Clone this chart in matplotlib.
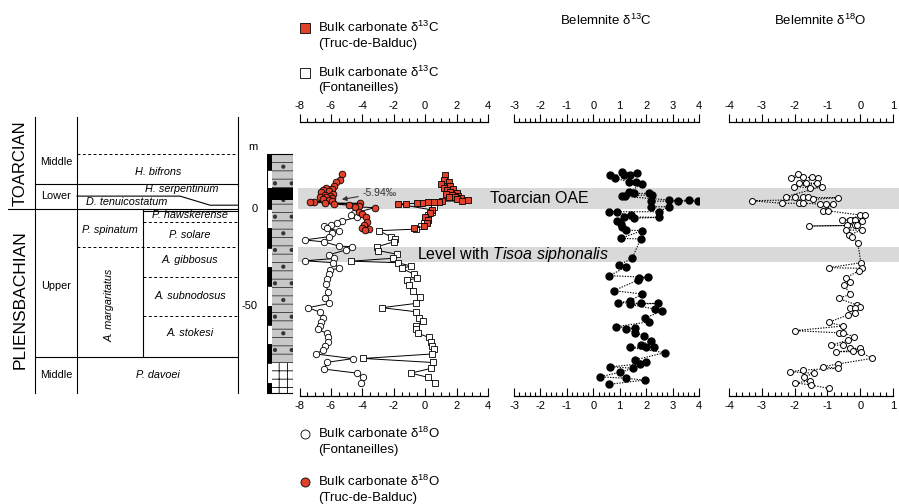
import matplotlib
matplotlib.use('Agg')
import numpy as np
import matplotlib.pyplot as plt
from matplotlib.ticker import MultipleLocator, FixedLocator

plt.rcParams['font.family'] = ['Liberation Sans', 'DejaVu Sans']
plt.rcParams['mathtext.fontset'] = 'custom'
plt.rcParams['mathtext.rm'] = 'Liberation Sans'
plt.rcParams['mathtext.it'] = 'Liberation Sans:italic'
plt.rcParams['mathtext.default'] = 'regular'
plt.rcParams['axes.unicode_minus'] = False
plt.rcParams['hatch.linewidth'] = 0.6

RED = '#e2412b'
BAND = '#d9d9d9'

# ---- data (depth in m, isotopes in permil) ----
fon_d18o_depth = [-1.9, -3.1, -4.3, -6.2, -7.4, -8.3, -8.8, -10.0, -11.2, -12.6, -14.3, -16.0, -17.0,
                  -19.2, -19.5, -21.2, -23.8, -25.6, -26.8, -27.8, -30.7, -31.6, -33.8, -36.4, -39.0,
                  -42.8, -45.9, -48.9, -51.1, -53.4, -56.3, -58.4, -60.5, -62.3, -64.4, -66.5, -68.7,
                  -70.8, -73.0, -75.1, -77.5, -79.4, -82.9, -85.0, -87.2, -90.0]
fon_d18o = [-4.55, -4.75, -4.35, -5.3, -5.6, -6.0, -6.45, -6.25, -5.5, -5.9, -6.1, -7.67, -6.45,
            -5.5, -4.65, -5.05, -6.15, -5.8, -7.65, -5.85, -5.5, -6.05, -6.1, -6.25, -6.3,
            -6.2, -6.35, -6.1, -7.45, -6.7, -6.5, -6.6, -6.7, -6.85, -6.25, -6.2, -6.2,
            -6.35, -6.5, -6.95, -4.6, -6.25, -6.45, -4.35, -3.95, -4.1]

fon_d13c_depth = [1.2, -1.4, -3.0, -5.0, -7.0, -9.0, -10.4, -11.2, -14.3, -15.6, -17.0, -19.5, -21.5,
                  -23.4, -25.5, -27.0, -27.8, -29.5, -30.7, -33.8, -35.9, -36.8, -39.4, -42.5, -45.8,
                  -48.9, -51.1, -53.2, -56.3, -58.0, -60.6, -62.3, -64.4, -66.5, -68.7, -70.8, -72.7,
                  -75.1, -77.4, -79.5, -82.5, -85.0, -87.2, -90.0]
fon_d13c = [0.55, 0.45, 0.2, 0.0, -0.1, -0.25, -0.6, -2.95, -2.2, -1.9, -2.0, -3.05, -3.0,
            -1.8, -2.05, -4.7, -1.75, -0.9, -1.5, -0.7, -0.5, -1.17, -1.0, -0.8, -0.3,
            -0.6, -2.75, -0.6, -0.4, -0.15, -0.6, -0.6, -0.45, 0.23, 0.36, 0.46, 0.57,
            0.42, -3.93, 0.48, 0.4, -0.9, 0.17, 0.65]

tdb_d18o_depth = [18.0, 15.0, 14.0, 12.0, 11.0, 10.4, 9.8, 9.2, 8.6, 8.0, 7.5, 7.0, 6.5, 6.0, 5.5,
                  5.0, 4.5, 4.0, 3.8, 3.5, 3.2, 3.0, 2.6, 2.0, 1.5, 1.2, 0.7, -1.4, -2.6, -4.0,
                  -6.6, -8.3, -10.0, -10.5, -11.0]
tdb_d18o = [-5.3, -5.45, -5.7, -5.8, -6.3, -5.95, -6.5, -6.1, -6.6, -5.85, -6.4, -6.05, -6.7, -6.3, -5.95,
            -6.5, -6.15, -5.9, -7.1, -7.3, -6.4, -4.15, -5.8, -4.85, -4.2, -4.45, -3.2, -4.2, -4.0, -3.75,
            -3.7, -3.9, -4.0, -3.6, -3.8]

tdb_d13c_depth = [17.6, 15.0, 14.0, 13.0, 12.0, 11.0, 10.5, 10.0, 9.0, 8.5, 8.0, 7.5, 7.0, 6.5, 6.0,
                  5.5, 5.0, 4.7, 4.3, 4.0, 3.8, 3.6, 3.4, 3.2, 3.0, 2.8, 2.6, -0.5, -2.0, -4.0,
                  -5.5, -7.0, -9.0, -10.0]
tdb_d13c = [1.25, 1.2, 1.5, 1.0, 1.6, 1.2, 1.8, 1.4, 1.6, 2.0, 1.3, 1.7, 2.1, 1.5, 1.9,
            2.3, 2.0, 2.7, 2.35, 1.1, 0.87, 0.55, 0.2, -0.2, -0.5, -1.25, -1.7, 0.45, 0.3, 0.0,
            0.2, 0.1, -0.1, -0.73]

bel13_depth = [19.3, 18.5, 17.6, 17.6, 17.6, 15.9, 14.1, 14.1, 12.8, 9.0, 8.1, 8.1, 7.3, 7.0, 6.7,
               4.7, 4.3, 4.7, 4.1, 4.1, 1.2, 1.2, -1.4, -1.4, -1.4, -3.1, -4.0, -4.3, -4.8, -6.2,
               -7.5, -9.2, -10.9, -11.2, -15.2, -15.5, -25.6, -29.0, -30.2, -34.5, -35.4, -35.9,
               -36.8, -42.3, -44.0, -47.7, -48.5, -48.9, -48.9, -49.4, -51.8, -52.7, -56.6, -58.4,
               -61.0, -61.8, -62.2, -64.1, -65.6, -68.2, -70.5, -71.3, -71.3, -71.7, -74.4, -78.2,
               -79.1, -80.3, -81.7, -82.5, -84.6, -86.9, -87.7, -88.6, -90.8]
bel13 = [1.09, 1.66, 1.4, 1.15, 0.65, 0.84, 1.34, 1.6, 1.85, 1.34, 1.53, 2.1, 2.23, 1.2, 1.09,
         2.86, 3.2, 3.62, 3.97, 2.17, 2.17, 2.86, 2.48, 0.9, 0.58, 1.41, 1.15, 2.48, 1.53, 0.9,
         1.05, 1.09, 1.22, 1.85, 1.03, 1.79, 1.47, 0.96, 1.22, 0.61, 2.07, 1.73,
         1.69, 0.77, 1.85, 1.38, 0.94, 1.79, 2.46, 1.38, 2.33, 2.61, 1.95, 2.1,
         0.86, 1.57, 1.22, 1.57, 1.91, 2.17, 1.79, 1.98, 2.29, 1.38, 2.7, 1.57,
         1.98, 1.76, 0.65, 1.51, 1.0, 0.24, 1.25, 1.94, 0.61]

bel18_depth = [18.0, 16.2, 16.4, 16.4, 16.2, 13.6, 13.6, 13.3, 11.6, 11.0, 11.6, 6.4, 6.4, 6.4, 6.0,
               5.9, 5.0, 4.3, 3.0, 3.0, 3.0, 2.6, 2.6, 2.6, -0.9, -0.9, -3.1, -3.1, -5.7, -5.7,
               -5.7, -6.2, -8.5, -8.8, -8.5, -8.5, -10.9, -10.9, -13.5, -14.3, -17.8, -27.8,
               -30.4, -30.7, -32.1, -35.6, -37.7, -39.4, -44.2, -46.3, -49.7, -51.1, -51.0, -51.5,
               -54.0, -54.9, -58.7, -60.6, -63.0, -64.1, -64.1, -66.1, -67.9, -70.5, -70.5, -72.2,
               -72.2, -73.4, -73.9, -73.9, -77.4, -80.3, -81.7, -82.5, -83.4, -84.3, -85.1, -86.9,
               -89.1, -90.0, -91.2, -92.9]
bel18 = [-1.9, -2.1, -1.73, -1.48, -1.28, -1.88, -1.65, -1.33, -2.02, -1.53, -1.16, -2.27, -1.98, -1.73, -1.58,
         -0.69, -1.43, -3.31, -2.37, -1.88, -1.73, -1.23, -1.04, -0.82, -1.14, -0.99, 0.0, 0.15, -0.56, -0.3,
         -0.15, 0.05, -0.4, -1.55, -0.15, -0.1, -0.44, 0.05, -0.35, -0.25, -0.07, 0.02,
         -0.96, 0.05, -0.05, -0.44, -0.3, -0.49, -0.3, -0.66, -0.1, -0.3, 0.0, -0.15,
         -0.15, -0.38, -0.96, -0.51, -2.0, -0.66, -0.52, -0.2, -0.36, -0.89, -0.51, -0.3,
         0.0, -0.23, -0.74, 0.02, 0.35, -0.69, -1.14, -0.69, -1.73, -2.14, -1.41, -1.71,
         -1.53, -1.98, -1.5, -0.96]

# highlighted intervals (depth ranges)
oae_band = (0.0, 11.0)
tisoa_band = (-27.2, -19.5)

# lithology: scale-bar segments and column units (top, bottom)
scale_edges = [28.5, 20, 10, 0, -10, -20, -30, -40, -50, -60, -70, -80, -90, -95.3]
marl_units = [(28.5, 11.0), (4.7, -80.0)]
shale_units = [(11.0, 4.7)]
limestone_units = [(-80.0, -95.3)]

# ---- layout helpers ----
W, H = 899, 504
fig = plt.figure(figsize=(W / 100, H / 100), dpi=100)
D_TOP, D_BOT = 45.1, -96.6


def px_axes(x0, x1, y0=122, y1=395.5):
    ax = fig.add_axes([x0 / W, 1 - y1 / H, (x1 - x0) / W, (y1 - y0) / H])
    ax.patch.set_alpha(0)
    return ax


def depth_axes(x0, x1, xlim):
    ax = px_axes(x0, x1)
    ax.set_xlim(*xlim)
    ax.set_ylim(D_BOT, D_TOP)
    ax.axis('off')
    return ax


def ruler(axis, ticks, minor, direction, pad):
    axis.xaxis.set_major_locator(FixedLocator(ticks))
    axis.xaxis.set_minor_locator(MultipleLocator(minor))
    axis.set_xticklabels([str(int(t)) for t in ticks])
    axis.tick_params(axis='x', which='both', direction=direction, labelsize=8, pad=pad, width=0.8)
    axis.tick_params(axis='x', which='major', length=6)
    axis.tick_params(axis='x', which='minor', length=3)


def panel(x0, x1, lo, hi, major, minor):
    ax = px_axes(x0, x1)
    ax.set_xlim(lo, hi)
    ax.set_ylim(D_BOT, D_TOP)
    for s in ('left', 'right', 'top'):
        ax.spines[s].set_visible(False)
    ax.spines['bottom'].set_linewidth(0.9)
    ax.set_yticks([])
    ticks = np.arange(lo, hi + 0.001, major)
    ruler(ax, ticks, minor, 'in', 4)
    sec = ax.secondary_xaxis('top')
    sec.spines['top'].set_linewidth(0.9)
    ruler(sec, ticks, minor, 'out', 2)
    return ax


# ---- background / legend layer ----
bg = fig.add_axes([0, 0, 1, 1])
bg.set_xlim(0, W)
bg.set_ylim(H, 0)
bg.axis('off')

# ---- grey event bands ----
band = depth_axes(298, 899, (0, 1))
band.axhspan(*oae_band, color=BAND, lw=0, zorder=0)
band.axhspan(*tisoa_band, color=BAND, lw=0, zorder=0)
band.text(0.32, 5.6, 'Toarcian OAE', fontsize=11.5, va='center', ha='left')
band.text(0.198, -23.3, r'Level with $\mathit{Tisoa\ siphonalis}$', fontsize=11.5, va='center', ha='left')

# ---- bulk carbonate panel ----
bulk = panel(299.5, 488, -8, 4, 2, 0.5)
kw = dict(color='black', lw=0.7, markeredgecolor='black', markeredgewidth=0.6)
bulk.plot(fon_d18o, fon_d18o_depth, marker='o', markersize=4.6, markerfacecolor='white', **kw)
bulk.plot(fon_d13c, fon_d13c_depth, marker='s', markersize=4.6, markerfacecolor='white', **kw)
bulk.plot(tdb_d18o, tdb_d18o_depth, marker='o', markersize=4.8, markerfacecolor=RED, **kw)
bulk.plot(tdb_d13c, tdb_d13c_depth, marker='s', markersize=4.8, markerfacecolor=RED, **kw)
bulk.annotate('-5.94\u2030', xy=(-5.3, 5.0), xytext=(-4.0, 8.3), fontsize=7.5, color='#333333',
              va='center', ha='left',
              arrowprops=dict(arrowstyle='-|>', color='#333333', lw=0.8, mutation_scale=7,
                              shrinkA=1, shrinkB=0))

# ---- belemnite panels ----
b13 = panel(514, 699, -3, 4, 1, 0.2)
b13.plot(bel13, bel13_depth, color='black', lw=0.8, ls=(0, (1.2, 1.2)), marker='o', markersize=5,
         markerfacecolor='black', markeredgecolor='black')

b18 = panel(729, 893, -4, 1, 1, 0.2)
b18.plot(bel18, bel18_depth, color='black', lw=0.8, ls=(0, (1.2, 1.2)), marker='o', markersize=4.3,
         markerfacecolor='white', markeredgecolor='black', markeredgewidth=0.7)

fig.text(606 / W, 1 - 20 / H, r'Belemnite δ$^{13}$C', fontsize=9.5, ha='center', va='center')
fig.text(820 / W, 1 - 20 / H, r'Belemnite δ$^{18}$O', fontsize=9.5, ha='center', va='center')

# ---- legend entries ----
leg = [(27, 's', RED, r'Bulk carbonate δ$^{13}$C', '(Truc-de-Balduc)'),
       (72, 's', 'white', r'Bulk carbonate δ$^{13}$C', '(Fontaneilles)'),
       (433, 'o', 'white', r'Bulk carbonate δ$^{18}$O', '(Fontaneilles)'),
       (481, 'o', RED, r'Bulk carbonate δ$^{18}$O', '(Truc-de-Balduc)')]
for y, m, fc, l1, l2 in leg:
    bg.plot([305], [y + 1], marker=m, markersize=6.5, markerfacecolor=fc, markeredgecolor='black',
            markeredgewidth=0.6, ls='none')
    bg.text(318, y, l1, fontsize=9.5, va='center', ha='left')
    bg.text(318, y + 16.5, l2, fontsize=9.5, va='center', ha='left')

# ---- lithology column ----
lith = depth_axes(267, 293, (0, 1))
for i in range(len(scale_edges) - 1):
    top, bot = scale_edges[i], scale_edges[i + 1]
    fc = 'black' if i % 2 == 0 else 'white'
    lith.broken_barh([(0, 0.2)], (bot, top - bot), facecolor=fc, edgecolor='black', lw=0.5)
for top, bot in marl_units:
    lith.broken_barh([(0.2, 0.8)], (bot, top - bot), facecolor='#c8c8c8', edgecolor='#333333',
                     hatch='-.-', lw=0)
for top, bot in shale_units:
    lith.broken_barh([(0, 1)], (bot, top - bot), facecolor='black', edgecolor='black', lw=0)
for top, bot in limestone_units:
    lith.broken_barh([(0.2, 0.8)], (bot, top - bot), facecolor='white', edgecolor='black',
                     hatch='++', lw=0)
lith.broken_barh([(0, 1)], (scale_edges[-1], scale_edges[0] - scale_edges[-1]),
                 facecolor='none', edgecolor='black', lw=0.8)
lith.text(-0.35, 0, '0', fontsize=8, ha='right', va='center')
lith.text(-0.35, -50, '-50', fontsize=8, ha='right', va='center')
lith.text(-0.35, 32, 'm', fontsize=8, ha='right', va='center')

# ---- stratigraphic table ----
tab = depth_axes(0, 240, (0, 240))
T_TOP, T_BOT = 47.7, -95.3
lk = dict(color='black', lw=0.8, clip_on=False)
dk = dict(color='black', lw=0.7, ls=(0, (3, 2.5)), clip_on=False)
for x in (35, 77, 238):
    tab.plot([x, x], [T_TOP, T_BOT], **lk)
tab.plot([143, 143], [0, -76.7], **lk)
tab.plot([8, 238], [0, 0], **lk)
tab.plot([35, 238], [13.0, 13.0], **lk)
tab.plot([35, 238], [-76.7, -76.7], **lk)
tab.plot([77, 180, 210, 238], [6.7, 6.7, 2.0, 2.0], **lk)
tab.plot([143, 238], [-1.2, -1.2], **lk)
tab.plot([77, 238], [28.5, 28.5], **dk)
tab.plot([143, 238], [-6.7, -6.7], **dk)
tab.plot([77, 238], [-19.7, -19.7], **dk)
tab.plot([143, 238], [-35.2, -35.2], **dk)
tab.plot([143, 238], [-55.4, -55.4], **dk)

tab.text(20, 23.8, 'TOARCIAN', fontsize=12, rotation=90, ha='center', va='center')
tab.text(20, -47.0, 'PLIENSBACHIAN', fontsize=12.5, rotation=90, ha='center', va='center')
fs = 7.8
tab.text(56, 24.4, 'Middle', fontsize=fs, ha='center', va='center')
tab.text(56, 7.0, 'Lower', fontsize=fs, ha='center', va='center')
tab.text(56, -40.0, 'Upper', fontsize=fs, ha='center', va='center')
tab.text(56, -86.0, 'Middle', fontsize=fs, ha='center', va='center')
zones = [(158, 19.2, 'H. bifrons'), (182, 10.2, 'H. serpentinum'), (127, 3.6, 'D. tenuicostatum'),
         (190, -3.2, 'P. hawskerense'), (190, -13.5, 'P. solare'), (110, -10.9, 'P. spinatum'),
         (190, -26.4, 'A. gibbosus'), (190, -45.0, 'A. subnodosus'), (190, -64.2, 'A. stokesi'),
         (158, -86.0, 'P. davoei')]
for x, y, s in zones:
    tab.text(x, y, s, fontsize=fs, style='italic', ha='center', va='center')
tab.text(110, -49.7, 'A. margaritatus', fontsize=fs, style='italic', rotation=90, ha='center', va='center')

fig.savefig('out.png', dpi=100)
